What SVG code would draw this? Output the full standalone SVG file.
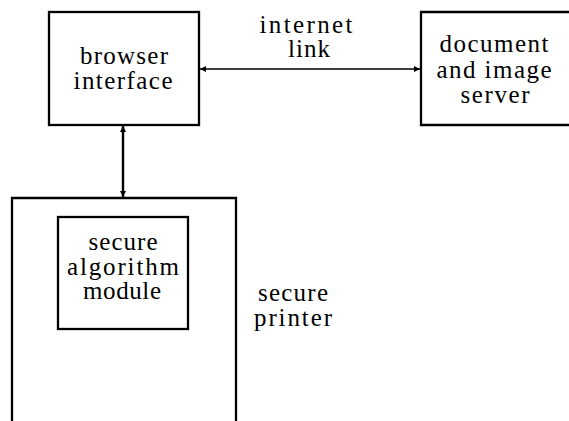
<svg xmlns="http://www.w3.org/2000/svg" width="569" height="421" viewBox="0 0 569 421">
<defs>
<style>
.box{fill:none;stroke:#000;stroke-width:2.3}
.t{fill:#000;text-anchor:middle}
.c{stroke:#000;fill:none}
</style>
<marker id="ah" viewBox="0 0 10 10" refX="10" refY="5" markerWidth="8" markerHeight="6" markerUnits="userSpaceOnUse" orient="auto-start-reverse">
<path d="M0,0 L10,5 L0,10 z" fill="#000"/>
</marker>
</defs>
<rect width="569" height="421" fill="#fff"/>
<g font-family="Liberation Serif, serif" font-size="25">
<g id="browser">
<rect class="box" x="49" y="12" width="150" height="113"/>
<text class="t" x="124" y="64" textLength="88" lengthAdjust="spacing">browser</text>
<text class="t" x="123" y="89" textLength="99" lengthAdjust="spacing">interface</text>
</g>
<g id="server">
<path class="box" d="M572,12 H421 V125 H572"/>
<text class="t" x="494" y="52" textLength="109" lengthAdjust="spacing">document</text>
<text class="t" x="494" y="78" textLength="115" lengthAdjust="spacing">and image</text>
<text class="t" x="495" y="103" textLength="69" lengthAdjust="spacing">server</text>
</g>
<g id="printer">
<path class="box" d="M12,424 V198 H236 V424"/>
<text class="t" x="293" y="301" textLength="70" lengthAdjust="spacing">secure</text>
<text class="t" x="293" y="326" textLength="78" lengthAdjust="spacing">printer</text>
</g>
<g id="module">
<rect class="box" x="58" y="217" width="130" height="112"/>
<text class="t" x="123" y="250" textLength="69" lengthAdjust="spacing">secure</text>
<text class="t" x="123" y="275" textLength="112" lengthAdjust="spacing">algorithm</text>
<text class="t" x="122" y="299" textLength="78" lengthAdjust="spacing">module</text>
</g>
<g id="link-label">
<text class="t" x="306" y="33" textLength="93" lengthAdjust="spacing">internet</text>
<text class="t" x="309" y="57" textLength="42" lengthAdjust="spacing">link</text>
</g>
</g>
<g id="connectors">
<line class="c" x1="200" y1="69" x2="420" y2="69" stroke-width="1.6" marker-start="url(#ah)" marker-end="url(#ah)"/>
<line class="c" x1="123" y1="126" x2="123" y2="197" stroke-width="2.4" marker-start="url(#ah)" marker-end="url(#ah)"/>
</g>
</svg>
